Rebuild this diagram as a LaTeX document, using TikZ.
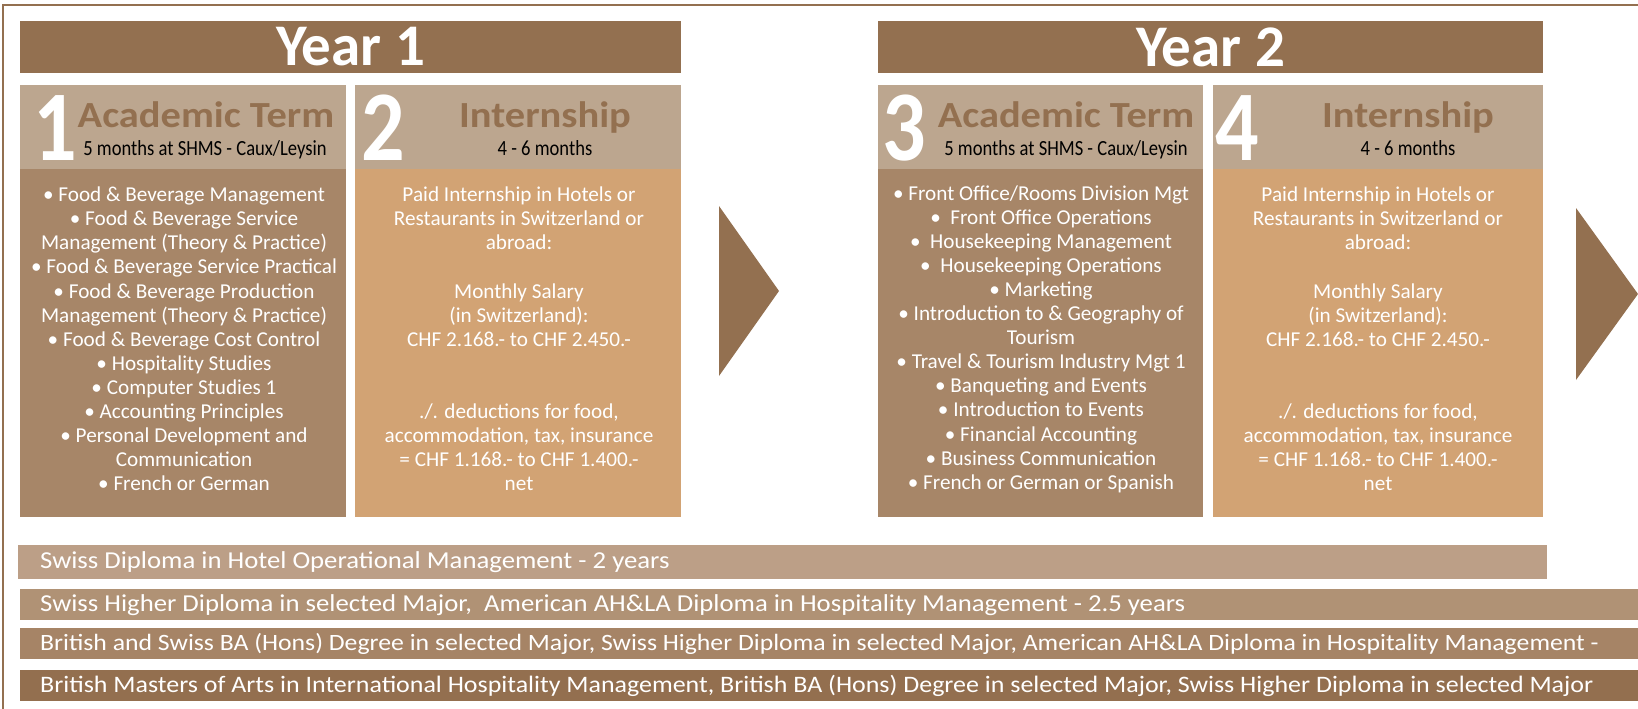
\documentclass[tikz,border=0pt]{standalone}
\usepackage{fontspec}
\setmainfont{Carlito}
\newfontfamily\narrowfont[FakeStretch=0.86]{Carlito}
\newfontfamily\widefont[FakeStretch=1.1]{Carlito}
\usetikzlibrary{positioning}

\definecolor{darkbrown}{RGB}{147,112,80}
\definecolor{headtan}{RGB}{188,166,143}
\definecolor{acadbody}{RGB}{167,134,104}
\definecolor{internbody}{RGB}{210,163,116}
\definecolor{barone}{RGB}{188,159,135}
\definecolor{bartwo}{RGB}{176,146,117}
\definecolor{barthree}{RGB}{166,132,102}
\definecolor{barfour}{RGB}{147,111,79}

\tikzset{
  panel/.style={anchor=north west,inner sep=0pt,outer sep=0pt},
  yearbar/.style={panel,fill=darkbrown,minimum height=52pt,text=white,
    font=\fontsize{59}{59}\selectfont\bfseries},
  headbox/.style={panel,fill=headtan,minimum width=#1,minimum height=84pt},
  bodybox/.style={panel,minimum width=#1,minimum height=348pt},
  bignum/.style={anchor=base west,inner sep=0pt,text=white,
    font=\narrowfont\fontsize{100}{100}\selectfont\bfseries},
  termtitle/.style={anchor=base,inner sep=0pt,text=darkbrown,
    font=\widefont\fontsize{36.8}{36.8}\selectfont\bfseries},
  termsub/.style={anchor=base,inner sep=0pt,text=black,
    font=\narrowfont\fontsize{21.6}{21.6}\selectfont},
  listtext/.style={inner sep=0pt,align=center,text=white,
    font=\fontsize{21.2}{24.1}\selectfont},
  diploma/.style={panel,minimum height=#1},
  diplomatext/.style={anchor=base west,inner sep=0pt,text=white,
    font=\widefont\fontsize{#1}{#1}\selectfont}
}

\newcommand{\paytext}{Paid Internship in Hotels or\\
Restaurants in Switzerland or\\
abroad:\\[24.1pt]
Monthly Salary\\
(in Switzerland):\\
CHF 2.168.- to CHF 2.450.-\\[48.2pt]
./. deductions for food,\\
accommodation, tax, insurance\\
= CHF 1.168.- to CHF 1.400.-\\
net}

\begin{document}
\begin{tikzpicture}[x=1pt,y=-1pt]
\useasboundingbox (0,0) rectangle (1638,709);
\clip (0,0) rectangle (1638,709);

% outer frame
\draw[darkbrown,line width=2pt] (3,709) -- (3,5) -- (1638,5);

% years
\node[yearbar,minimum width=661pt] (year1) at (20,21) {Year 1};
\node[yearbar,minimum width=665pt] (year2) at (878,21) {Year 2};

% term headers
\node[headbox=326pt] (head1) at (20,85) {};
\node[headbox=326pt] (head2) at (355,85) {};
\node[headbox=325pt] (head3) at (878,85) {};
\node[headbox=330pt] (head4) at (1213,85) {};

\node[bignum] (num1) at (33,160) {1};
\node[bignum] (num2) at (361,160) {2};
\node[bignum] (num3) at (882,160) {3};
\node[bignum] (num4) at (1215,160) {4};

\node[termtitle] (title1) at (206,127) {Academic Term};
\node[termsub] (sub1) at (205,155) {5 months at SHMS - Caux/Leysin};
\node[termtitle] (title2) at (545,127) {Internship};
\node[termsub] (sub2) at (545,155) {4 - 6 months};
\node[termtitle] (title3) at (1066,127) {Academic Term};
\node[termsub] (sub3) at (1066,155) {5 months at SHMS - Caux/Leysin};
\node[termtitle] (title4) at (1408,127) {Internship};
\node[termsub] (sub4) at (1408,155) {4 - 6 months};

% term bodies
\node[bodybox=326pt,fill=acadbody] (body1) at (20,169) {};
\node[bodybox=326pt,fill=internbody] (body2) at (355,169) {};
\node[bodybox=325pt,fill=acadbody] (body3) at (878,169) {};
\node[bodybox=330pt,fill=internbody] (body4) at (1213,169) {};

\node[listtext] (list1) at (184,339) {\textbullet{} Food \& Beverage Management\\
\textbullet{} Food \& Beverage Service\\
Management (Theory \& Practice)\\
\textbullet{} Food \& Beverage Service Practical\\
\textbullet{} Food \& Beverage Production\\
Management (Theory \& Practice)\\
\textbullet{} Food \& Beverage Cost Control\\
\textbullet{} Hospitality Studies\\
\textbullet{} Computer Studies 1\\
\textbullet{} Accounting Principles\\
\textbullet{} Personal Development and\\
Communication\\
\textbullet{} French or German};
\node[listtext] (list2) at (519,339) {\paytext};
\node[listtext] (list3) at (1041,339) {\textbullet{} Front Office/Rooms Division Mgt\\
\textbullet{}\ \ Front Office Operations\\
\textbullet{}\ \ Housekeeping Management\\
\textbullet{}\ \ Housekeeping Operations\\
\textbullet{} Marketing\\
\textbullet{} Introduction to \& Geography of\\
Tourism\\
\textbullet{} Travel \& Tourism Industry Mgt 1\\
\textbullet{} Banqueting and Events\\
\textbullet{} Introduction to Events\\
\textbullet{} Financial Accounting\\
\textbullet{} Business Communication\\
\textbullet{} French or German or Spanish};
\node[listtext] (list4) at (1378,339) {\paytext};

% arrows between years
\fill[darkbrown] (719,206) -- (779,291) -- (719,376) -- cycle;
\fill[darkbrown] (1576,208) -- (1638,294) -- (1576,380) -- cycle;

% diplomas
\node[diploma=34pt,minimum width=1529pt,fill=barone] (dip1) at (18,545) {};
\node[diploma=31pt,minimum width=1620pt,fill=bartwo] (dip2) at (20,589) {};
\node[diploma=31pt,minimum width=1620pt,fill=barthree] (dip3) at (20,628) {};
\node[diploma=31pt,minimum width=1620pt,fill=barfour] (dip4) at (20,670) {};

\node[diplomatext=24.3] (dip1txt) at (40,568) {Swiss Diploma in Hotel Operational Management - 2 years};
\node[diplomatext=24.3] (dip2txt) at (40,611) {Swiss Higher Diploma in selected Major,\ \ American AH\&LA Diploma in Hospitality Management - 2.5 years};
\node[diplomatext=23.4] (dip3txt) at (40,650) {British and Swiss BA (Hons) Degree in selected Major, Swiss Higher Diploma in selected Major,\ American AH\&LA Diploma in Hospitality Management -};
\node[diplomatext=23.6] (dip4txt) at (40,692) {British Masters of Arts in International Hospitality Management, British BA (Hons) Degree in selected Major, Swiss Higher Diploma in selected Major};
\end{tikzpicture}
\end{document}
